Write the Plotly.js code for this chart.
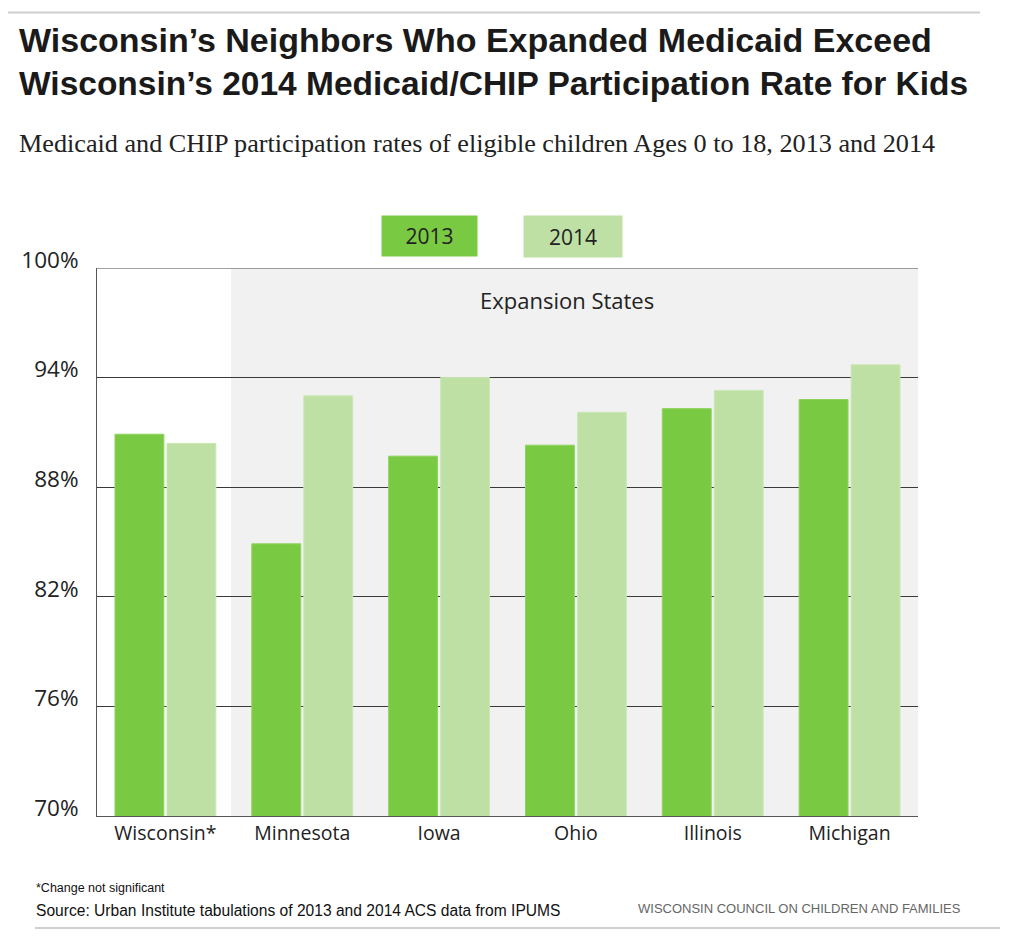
<!DOCTYPE html>
<html>
<head>
<meta charset="utf-8">
<script src="https://cdn.plot.ly/plotly-3.0.1.min.js"></script>
<style>html,body{margin:0;padding:0;background:#fff;}#chart{width:1024px;height:943px;}</style>
</head>
<body>
<div id="chart"></div>
<script>
const categories = ['Wisconsin*', 'Minnesota', 'Iowa', 'Ohio', 'Illinois', 'Michigan'];
const seriesNames = ['2013', '2014'];
const rate2013 = [90.9, 84.9, 89.7, 90.3, 92.3, 92.8];
const rate2014 = [90.4, 93.0, 94.0, 92.1, 93.3, 94.7];
const yTicks = [70, 76, 82, 88, 94, 100];

const colors = ['#7AC943', '#BFE0A5'];
const L = 97, R = 918, T = 268, B = 816;
const px = x => (x - L) / (R - L);
const py = y => (B - y) / (B - T);

const sans = '"Liberation Sans", Arial, sans-serif';
const body = '"Open Sans", "Noto Sans", sans-serif';

const traces = [
  {type: 'bar', name: seriesNames[0], x: categories, y: rate2013,
   marker: {color: colors[0], line: {color: '#8fd35e', width: 1}}, hoverinfo: 'x+y'},
  {type: 'bar', name: seriesNames[1], x: categories, y: rate2014,
   marker: {color: colors[1], line: {color: '#cbe8b5', width: 1}}, hoverinfo: 'x+y'}
];

const layout = {
  width: 1024, height: 943,
  margin: {l: L, r: 1024 - R, t: T, b: 943 - B, pad: 0},
  paper_bgcolor: '#fff', plot_bgcolor: '#fff',
  showlegend: false,
  barmode: 'group', bargap: 0.24, bargroupgap: 0.06,
  xaxis: {
    type: 'category', range: [-0.5, 5.5], showgrid: false, zeroline: false,
    showline: true, linecolor: '#555', linewidth: 1, ticks: '',
    tickfont: {family: body, size: 19.5, color: '#222'}, fixedrange: true
  },
  yaxis: {
    range: [70, 100], tickvals: yTicks, ticktext: yTicks.map(v => v + '%'),
    showgrid: true, gridcolor: '#3a3a3a', gridwidth: 1, zeroline: false,
    showline: true, linecolor: '#555', linewidth: 1, ticks: '',
    ticklabelposition: 'outside', ticklabelshift: -8, ticklabelstandoff: 13,
    tickfont: {family: body, size: 22.5, color: '#222'}, fixedrange: true
  },
  shapes: [
    {type: 'rect', xref: 'x', yref: 'y', x0: 0.48, x1: 5.5, y0: 70, y1: 100,
     fillcolor: '#f1f1f1', line: {width: 0}, layer: 'below'},
    {type: 'line', xref: 'paper', yref: 'y', x0: 0, x1: 1, y0: 100, y1: 100,
     line: {color: '#444', width: 1}},
    {type: 'line', xref: 'paper', yref: 'paper', x0: px(8), x1: px(980), y0: py(12.5), y1: py(12.5),
     line: {color: '#cfcfcf', width: 2}},
    {type: 'line', xref: 'paper', yref: 'paper', x0: px(35), x1: px(1000), y0: py(928), y1: py(928),
     line: {color: '#cfcfcf', width: 2}}
  ],
  annotations: [
    {text: '<b>Wisconsin’s Neighbors Who Expanded Medicaid Exceed</b>',
     xref: 'paper', yref: 'paper', x: px(17), y: py(40), xanchor: 'left', yanchor: 'middle',
     showarrow: false, font: {family: sans, size: 34, color: '#1a1a1a'}},
    {text: '<b>Wisconsin’s 2014 Medicaid/CHIP Participation Rate for Kids</b>',
     xref: 'paper', yref: 'paper', x: px(17), y: py(83), xanchor: 'left', yanchor: 'middle',
     showarrow: false, font: {family: sans, size: 33.5, color: '#1a1a1a'}},
    {text: 'Medicaid and CHIP participation rates of eligible children Ages 0 to 18, 2013 and 2014',
     xref: 'paper', yref: 'paper', x: px(17), y: py(144), xanchor: 'left', yanchor: 'middle',
     showarrow: false, font: {family: '"Liberation Serif", "Times New Roman", serif', size: 26.2, color: '#222'}},
    {text: 'Expansion States', xref: 'paper', yref: 'paper', x: px(567), y: py(300),
     xanchor: 'center', yanchor: 'middle', showarrow: false,
     font: {family: body, size: 22, color: '#222'}},
    {text: seriesNames[0], xref: 'paper', yref: 'paper', x: px(429.5), y: py(236),
     xanchor: 'center', yanchor: 'middle', showarrow: false, width: 95, height: 40,
     bgcolor: colors[0], borderpad: 0, font: {family: body, size: 21, color: '#222'}},
    {text: seriesNames[1], xref: 'paper', yref: 'paper', x: px(573), y: py(236.5),
     xanchor: 'center', yanchor: 'middle', showarrow: false, width: 98, height: 41,
     bgcolor: colors[1], borderpad: 0, font: {family: body, size: 21, color: '#222'}},
    {text: '*Change not significant', xref: 'paper', yref: 'paper', x: px(34), y: py(888),
     xanchor: 'left', yanchor: 'middle', showarrow: false,
     font: {family: sans, size: 12.5, color: '#111'}},
    {text: 'Source: Urban Institute tabulations of 2013 and 2014 ACS data from IPUMS', xref: 'paper', yref: 'paper',
     x: px(34), y: py(910), xanchor: 'left', yanchor: 'middle', showarrow: false,
     font: {family: sans, size: 15.6, color: '#111'}},
    {text: 'WISCONSIN COUNCIL ON CHILDREN AND FAMILIES', xref: 'paper', yref: 'paper',
     x: px(636), y: py(908), xanchor: 'left', yanchor: 'middle', showarrow: false,
     font: {family: sans, size: 13, color: '#666'}}
  ]
};

Plotly.newPlot('chart', traces, layout, {staticPlot: true, displayModeBar: false});
</script>
</body>
</html>
